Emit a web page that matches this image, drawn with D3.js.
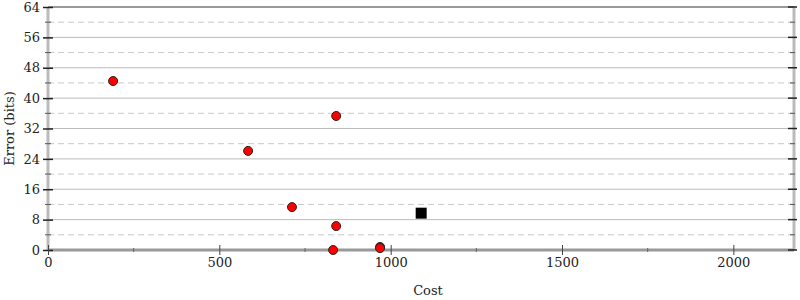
<!DOCTYPE html>
<html>
<head>
<meta charset="utf-8">
<script src="https://cdn.jsdelivr.net/npm/d3@7"></script>
<style>
  body { margin: 0; background: #fff; }
  svg { font-family: "DejaVu Serif", serif; }
</style>
</head>
<body>
<div id="chart"></div>
<script>
// candidate programs: cost vs error
const pointCost = [190, 841, 584, 712, 841, 832, 969, 969];
const pointError = [44.5, 35.3, 26.1, 11.3, 6.3, 0.0, 0.8, 0.5];
// initial program
const initialCost = [1089];
const initialError = [9.7];

const xMajor = [0, 500, 1000, 1500, 2000];
const xMinor = [250, 750, 1250, 1750];
const yMajor = [0, 8, 16, 24, 32, 40, 48, 56, 64];
const yMinor = [4, 12, 20, 28, 36, 44, 52, 60];

const width = 800, height = 300;
const mLeft = 48, mRight = 794, mTop = 7, mBottom = 250;

const svg = d3.select('#chart').append('svg')
  .attr('width', width)
  .attr('height', height);

const x = d3.scaleLinear().domain([0, 2177]).range([mLeft, mRight]);
const y = d3.scaleLinear().domain([0, 64]).range([mBottom, mTop]);

// grid lines
svg.append('g').selectAll('line.minor')
  .data(yMinor)
  .join('line')
  .attr('x1', mLeft).attr('x2', mRight)
  .attr('y1', d => y(d)).attr('y2', d => y(d))
  .attr('stroke', '#c8c8c8')
  .attr('stroke-dasharray', '6,4');

svg.append('g').selectAll('line.major')
  .data(yMajor.filter(d => d > 0 && d < 64))
  .join('line')
  .attr('x1', mLeft).attr('x2', mRight)
  .attr('y1', d => y(d)).attr('y2', d => y(d))
  .attr('stroke', '#bbb');

// frame
svg.append('line')
  .attr('x1', mLeft).attr('x2', mRight)
  .attr('y1', y(64)).attr('y2', y(64))
  .attr('stroke', '#999').attr('stroke-width', 2);
svg.append('line')
  .attr('x1', mLeft).attr('x2', mLeft)
  .attr('y1', mTop).attr('y2', mBottom)
  .attr('stroke', '#bbb').attr('stroke-width', 3);
svg.append('line')
  .attr('x1', mRight).attr('x2', mRight)
  .attr('y1', mTop).attr('y2', mBottom)
  .attr('stroke', '#bbb').attr('stroke-width', 3);
svg.append('line')
  .attr('x1', mLeft).attr('x2', mRight)
  .attr('y1', mBottom).attr('y2', mBottom)
  .attr('stroke', '#999').attr('stroke-width', 3);

// y axis left
const yAxis = svg.append('g')
  .attr('transform', `translate(${mLeft},0)`)
  .call(d3.axisLeft(y).tickValues(yMajor).tickSize(5).tickPadding(3).tickFormat(d3.format('d')));
yAxis.select('.domain').remove();
yAxis.selectAll('.tick line').attr('x2', 5).attr('x1', -5).attr('stroke', '#222').attr('stroke-width', 1.5);
yAxis.selectAll('.tick text')
  .attr('font-family', '"DejaVu Serif", serif')
  .attr('font-size', 13)
  .attr('fill', '#222');

svg.append('g').selectAll('line')
  .data(yMinor)
  .join('line')
  .attr('x1', mLeft - 3).attr('x2', mLeft + 3)
  .attr('y1', d => y(d)).attr('y2', d => y(d))
  .attr('stroke', '#555');

// y ticks right
svg.append('g').selectAll('line')
  .data(yMajor)
  .join('line')
  .attr('x1', mRight - 6).attr('x2', mRight + 3)
  .attr('y1', d => y(d)).attr('y2', d => y(d))
  .attr('stroke', '#222').attr('stroke-width', 1.5);
svg.append('g').selectAll('line')
  .data(yMinor)
  .join('line')
  .attr('x1', mRight - 4).attr('x2', mRight + 1)
  .attr('y1', d => y(d)).attr('y2', d => y(d))
  .attr('stroke', '#555');

// x axis
const xAxis = svg.append('g')
  .attr('transform', `translate(0,${mBottom})`)
  .call(d3.axisBottom(x).tickValues(xMajor).tickSize(5).tickPadding(3).tickFormat(d3.format('d')));
xAxis.select('.domain').remove();
xAxis.selectAll('.tick line').attr('y1', -5).attr('y2', 5).attr('stroke', '#444');
xAxis.selectAll('.tick text')
  .attr('font-family', '"DejaVu Serif", serif')
  .attr('font-size', 13)
  .attr('fill', '#222');

svg.append('g').selectAll('line')
  .data(xMinor)
  .join('line')
  .attr('x1', d => x(d)).attr('x2', d => x(d))
  .attr('y1', mBottom - 2).attr('y2', mBottom + 2)
  .attr('stroke', '#666');

// axis titles
svg.append('text')
  .attr('x', 428).attr('y', 295)
  .attr('text-anchor', 'middle')
  .attr('font-size', 13)
  .attr('fill', '#222')
  .text('Cost');
svg.append('text')
  .attr('transform', `translate(14,${(mTop + mBottom) / 2}) rotate(-90)`)
  .attr('text-anchor', 'middle')
  .attr('font-size', 13)
  .attr('fill', '#222')
  .text('Error (bits)');

// marks
svg.append('g').selectAll('circle')
  .data(d3.zip(pointCost, pointError))
  .join('circle')
  .attr('cx', d => x(d[0]))
  .attr('cy', d => y(d[1]))
  .attr('r', 4.5)
  .attr('fill', 'red')
  .attr('stroke', '#222')
  .attr('stroke-width', 1);

svg.append('g').selectAll('rect')
  .data(d3.zip(initialCost, initialError))
  .join('rect')
  .attr('x', d => x(d[0]) - 5.5)
  .attr('y', d => y(d[1]) - 5.5)
  .attr('width', 11)
  .attr('height', 11)
  .attr('fill', '#000');
</script>
</body>
</html>
